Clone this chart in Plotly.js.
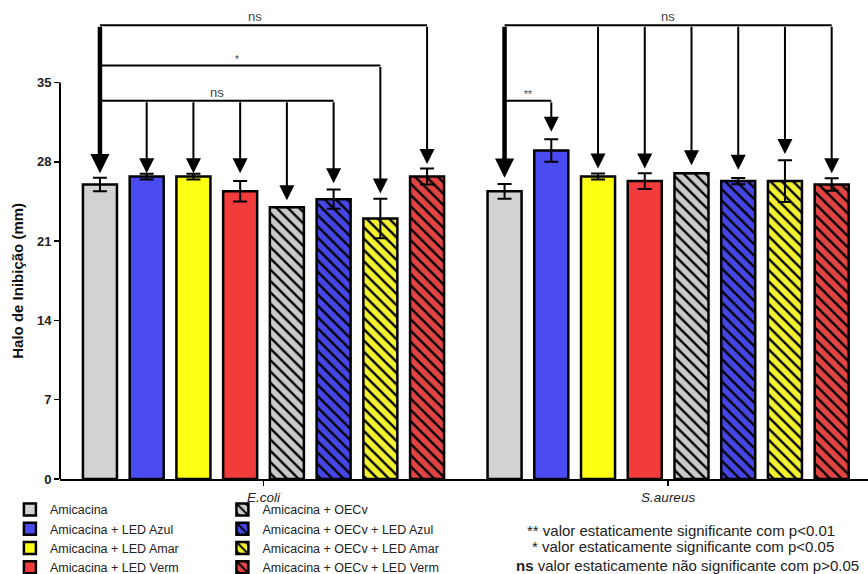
<!DOCTYPE html>
<html>
<head>
<meta charset="utf-8">
<script src="https://cdn.plot.ly/plotly-3.0.1.min.js"></script>
<style>html,body{margin:0;padding:0;background:#fff;}#chart{width:868px;height:574px;}</style>
</head>
<body>
<div id="chart"></div>
<script>
// ---- data ----
const groups = ['E.coli', 'S.aureus'];
const treatments = ['Amicacina', 'Amicacina + LED Azul', 'Amicacina + LED Amar', 'Amicacina + LED Verm',
                    'Amicacina + OECv', 'Amicacina + OECv + LED Azul', 'Amicacina + OECv + LED Amar', 'Amicacina + OECv + LED Verm'];
const ecoliMean   = [26.0, 26.7, 26.7, 25.4, 24.0, 24.7, 23.0, 26.7];
const ecoliErr    = [0.6, 0.25, 0.25, 0.9, 0, 0.85, 1.75, 0.7];
const saureusMean = [25.4, 29.0, 26.7, 26.3, 27.0, 26.3, 26.3, 26.0];
const saureusErr  = [0.65, 1.0, 0.27, 0.7, 0, 0.27, 1.85, 0.55];
const barColors   = ['#d2d2d2', '#4b4bf2', '#ffff14', '#f23c3c', '#cacaca', '#4646e6', '#f2f230', '#e24444'];
const hatched     = [false, false, false, false, true, true, true, true];
const yTicks      = [0, 7, 14, 21, 28, 35];

// significance brackets (heights in mm)
const ecoliTips   = [27.0, 27.0, 27.0, 27.0, 24.6, 26.1, 25.2, 27.8];
const saureusTips = [26.6, 30.65, 27.4, 27.4, 27.7, 27.3, 28.7, 27.0];
const bracketTop = 40.05, bracketMid = 36.5, bracketLow = 33.4;

// ---- layout params ----
const bargap = 0.076;
const slot = (1 - bargap) / treatments.length;
const xpos = (cat, i) => cat + (i - (treatments.length - 1) / 2) * slot;

const traces = treatments.map((name, i) => ({
  type: 'bar',
  name: name,
  x: groups,
  y: [ecoliMean[i], saureusMean[i]],
  legend: i < 4 ? 'legend' : 'legend2',
  marker: {
    color: barColors[i],
    line: {color: '#000', width: 2.5},
    pattern: hatched[i] ? {shape: '\\', fgcolor: '#000', bgcolor: barColors[i], size: 8, solidity: 0.3, fillmode: 'replace'} : {shape: ''}
  },
  error_y: {type: 'data', array: [ecoliErr[i], saureusErr[i]], visible: true, color: '#000', thickness: 2, width: 7}
}));

const shapes = [
  // y axis line only up to 35
  {type: 'line', xref: 'paper', yref: 'y', x0: 0, x1: 0, y0: 0, y1: 35, line: {color: '#000', width: 2}},
  // E.coli brackets
  {type: 'line', xref: 'x', yref: 'y', x0: xpos(0, 0), x1: xpos(0, 7), y0: bracketTop, y1: bracketTop, line: {color: '#000', width: 2}},
  {type: 'line', xref: 'x', yref: 'y', x0: xpos(0, 0), x1: xpos(0, 6), y0: bracketMid, y1: bracketMid, line: {color: '#000', width: 2}},
  {type: 'line', xref: 'x', yref: 'y', x0: xpos(0, 0), x1: xpos(0, 5), y0: bracketLow, y1: bracketLow, line: {color: '#000', width: 2}},
  // S.aureus brackets
  {type: 'line', xref: 'x', yref: 'y', x0: xpos(1, 0), x1: xpos(1, 7), y0: bracketTop, y1: bracketTop, line: {color: '#000', width: 2}},
  {type: 'line', xref: 'x', yref: 'y', x0: xpos(1, 0), x1: xpos(1, 1), y0: bracketLow, y1: bracketLow, line: {color: '#000', width: 2}}
];

function arrow(x, yFrom, yTip, w) {
  return {x: x, y: yTip, ax: x, ay: yFrom, xref: 'x', yref: 'y', axref: 'x', ayref: 'y',
          text: '', showarrow: true, arrowhead: 2, arrowsize: w > 2 ? 0.85 : 1.5, arrowwidth: w, arrowcolor: '#000', standoff: 0};
}
const annotations = [];
// E.coli arrows
annotations.push(arrow(xpos(0, 0), bracketTop, ecoliTips[0], 4.5));
for (let i = 1; i <= 5; i++) annotations.push(arrow(xpos(0, i), bracketLow, ecoliTips[i], 2));
annotations.push(arrow(xpos(0, 6), bracketMid, ecoliTips[6], 2));
annotations.push(arrow(xpos(0, 7), bracketTop, ecoliTips[7], 2));
// S.aureus arrows
annotations.push(arrow(xpos(1, 0), bracketTop, saureusTips[0], 4.5));
annotations.push(arrow(xpos(1, 1), bracketLow, saureusTips[1], 2));
for (let i = 2; i <= 7; i++) annotations.push(arrow(xpos(1, i), bracketTop, saureusTips[i], 2));

const FAM = 'Liberation Sans, Arial, sans-serif';
function label(x, y, t, size) {
  return {x: x, y: y, xref: 'x', yref: 'y', text: t, showarrow: false, yanchor: 'bottom', xanchor: 'center',
          font: {family: FAM, size: size || 13, color: '#444'}, yshift: -1};
}
annotations.push(label(-0.021, bracketTop, 'ns'));
annotations.push(label(-0.065, bracketMid, '*', 10));
annotations.push(label(-0.115, bracketLow, 'ns'));
annotations.push(label(1.0, bracketTop, 'ns'));
annotations.push(label(0.654, bracketLow, '**', 10));

// y title centered on axis line
annotations.push({xref: 'paper', yref: 'y', x: -0.052, y: 17.5, text: '<b>Halo de Inibição (mm)</b>', textangle: -90,
  showarrow: false, xanchor: 'center', yanchor: 'middle', font: {family: FAM, size: 15, color: '#111'}});

// significance note
const noteFont = {family: FAM, size: 15, color: '#222'};
annotations.push({xref: 'paper', yref: 'paper', x: 0.7686, y: -0.1097, text: '** valor estaticamente significante com p&lt;0.01', showarrow: false, xanchor: 'center', yanchor: 'middle', font: noteFont});
annotations.push({xref: 'paper', yref: 'paper', x: 0.771, y: -0.146, text: '* valor estaticamente significante com p&lt;0.05', showarrow: false, xanchor: 'center', yanchor: 'middle', font: noteFont});
annotations.push({xref: 'paper', yref: 'paper', x: 0.777, y: -0.187, text: '<b>ns</b> valor estaticamente não significante com p&gt;0.05', showarrow: false, xanchor: 'center', yanchor: 'middle', font: noteFont});

const legendFont = {family: FAM, size: 12.5, color: '#222'};
const layout = {
  width: 868, height: 574,
  margin: {l: 60, r: 0, t: 14, b: 95, autoexpand: false},
  paper_bgcolor: '#fff', plot_bgcolor: '#fff',
  barmode: 'group', bargap: bargap, bargroupgap: 0.272,
  font: {family: FAM, color: '#222'},
  xaxis: {
    type: 'category', range: [-0.503, 1.494], showline: true, linecolor: '#000', linewidth: 2,
    ticks: 'outside', ticklen: 5, tickwidth: 1.5, tickcolor: '#000', showgrid: false, zeroline: false,
    tickfont: {family: FAM, size: 13.5, style: 'italic', color: '#222'}
  },
  yaxis: {
    range: [0, 41.05], tickvals: yTicks, showline: false, ticks: 'outside', ticklen: 5, tickwidth: 1.5, tickcolor: '#000',
    showgrid: false, zeroline: false,
    tickfont: {family: FAM, size: 13, weight: 'bold', color: '#222'}
  },
  legend: {x: -0.062, y: -0.034, xanchor: 'left', yanchor: 'top', orientation: 'v', font: legendFont, bgcolor: 'rgba(0,0,0,0)', tracegroupgap: 0},
  legend2: {x: 0.201, y: -0.034, xanchor: 'left', yanchor: 'top', orientation: 'v', font: legendFont, bgcolor: 'rgba(0,0,0,0)', tracegroupgap: 0},
  showlegend: true,
  shapes: shapes,
  annotations: annotations
};

Plotly.newPlot('chart', traces, layout, {displayModeBar: false, staticPlot: true});
</script>
</body>
</html>
